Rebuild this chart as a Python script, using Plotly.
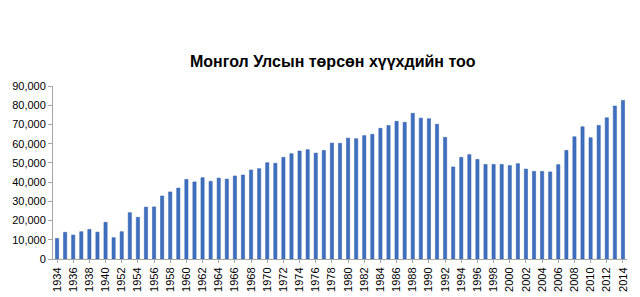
import plotly.graph_objects as go

years = [str(y) for y in range(1934, 1941)] + ["1950"] + [str(y) for y in range(1952, 2015)]
births = [
    10700, 13900, 12500, 14200, 15400, 14000, 19100,
    11100,
    14200, 24100, 21700, 27000, 27100, 32800, 34900, 36900, 41400, 40100,
    42300, 40400, 42100, 41600, 43200, 43700, 46300, 47000, 50100, 49800,
    52900, 54800, 56200, 56900, 55100, 56500, 60300, 60200, 62900, 62600,
    64200, 64900, 68000, 69400, 71600, 71100, 75800, 73300, 73000, 70100,
    63300, 47900, 52900, 54300, 51800, 49200, 49200, 49200, 48600, 49600,
    46800, 45600, 45600, 45300, 49100, 56500, 63600, 68800, 63100, 69500,
    73500, 79600, 82500,
]
tick_labels = years[::2]
title_text = "Монгол Улсын төрсөн хүүхдийн тоо"

fig = go.Figure(go.Bar(
    x=years, y=births,
    marker=dict(color="#3F6FBF", line=dict(color="#2F5BA8", width=0.5)),
))

fig.update_layout(
    width=640, height=297,
    margin=dict(l=53, r=13, t=86, b=38),
    paper_bgcolor="white", plot_bgcolor="white",
    bargap=0.6,
    showlegend=False,
    font=dict(family="Liberation Sans, Arial", size=11, color="#000000"),
    title=dict(text="<b>" + title_text + "</b>", x=0.52, xanchor="center",
               y=1 - 61 / 297, yanchor="middle",
               font=dict(family="Liberation Sans, Arial", size=16, color="#000000")),
)
fig.update_xaxes(
    type="category", tickmode="array", tickvals=tick_labels, ticktext=tick_labels,
    tickangle=-90, showline=True, linecolor="#A6A6A6", linewidth=1,
    ticks="outside", ticklen=3, tickcolor="#A6A6A6",
    showgrid=False, tickfont=dict(size=11), automargin=False,
)
fig.update_yaxes(
    range=[0, 90000], dtick=10000, tickformat=",d",
    showline=True, linecolor="#A6A6A6", linewidth=1,
    ticks="outside", ticklen=4, tickcolor="#A6A6A6",
    showgrid=False, zeroline=False, tickfont=dict(size=11), automargin=False,
)

fig.write_html("out.html")
